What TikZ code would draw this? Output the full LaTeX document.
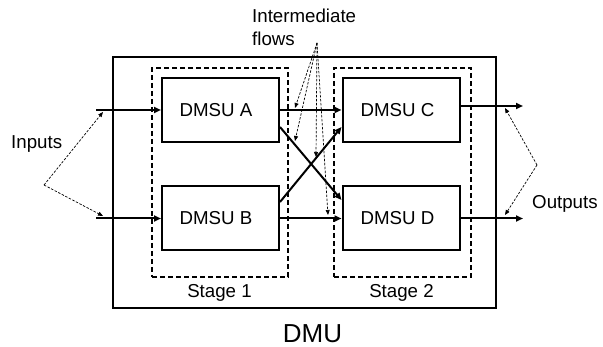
\documentclass[tikz,border=0pt]{standalone}
\usepackage{fontspec}
\setmainfont{Liberation Sans}
\usetikzlibrary{arrows.meta,calc}
\begin{document}
\begin{tikzpicture}[x=1pt,y=-1pt,
  unitbox/.style={draw,line width=2pt,minimum width=117pt,minimum height=64pt,inner sep=0pt,font=\fontsize{18.7}{20}\selectfont},
  stagebox/.style={draw,dash pattern=on 5pt off 3pt,line width=1.7pt,inner sep=0pt},
  flow/.style={line width=2pt,-{Triangle[length=7pt,width=6pt]}},
  pointer/.style={dash pattern=on 2.5pt off 1.5pt,line width=0.7pt,-{Triangle[length=5pt,width=4pt]}},
  lbl/.style={font=\fontsize{18.7}{23}\selectfont,inner sep=0pt}]
\useasboundingbox (0,0) rectangle (603,347);

% DMU frame and stage frames
\node[draw,line width=2.2pt,minimum width=383pt,minimum height=251pt,inner sep=0pt] (dmu) at (304.5,182.5) {};
\node[stagebox,minimum width=136pt,minimum height=209pt] (s1) at (220,172.5) {};
\node[stagebox,minimum width=137pt,minimum height=209pt] (s2) at (402.5,172.5) {};

% sub-units (names sit a little left of centre)
\node[unitbox] (A) at (220.5,110) {DMSU A\hspace*{9pt}};
\node[unitbox] (B) at (220.5,218.5) {DMSU B\hspace*{9pt}};
\node[unitbox] (C) at (401,110) {DMSU C\hspace*{7pt}};
\node[unitbox] (D) at (401,218.5) {DMSU D\hspace*{7pt}};

% labels
\node[lbl,anchor=center] (st1) at (219.5,293) {Stage 1};
\node[lbl,anchor=center] (st2) at (401.5,293) {Stage 2};
\node[inner sep=0pt,font=\fontsize{26}{28}\selectfont] (dmulbl) at (312.5,334) {DMU};
\node[lbl,anchor=west] (inlbl) at (11,144) {Inputs};
\node[lbl,anchor=west] (outlbl) at (532,204) {Outputs};
\node[lbl,anchor=north west,align=left] (imlbl) at (252,9) {Intermediate\\flows};

% inputs
\coordinate (inA) at (96,110);
\coordinate (inB) at (96,218.5);
\draw[flow] (inA) -- (A.west);
\draw[flow] (inB) -- (B.west);

% outputs
\coordinate (outC) at (523,106);
\coordinate (outD) at (523,218.5);
\draw[flow] (C.east |- outC) -- (outC);
\draw[flow] (D.east) -- (outD);

% intermediate flows
\draw[flow] (A.east) -- (C.west);
\draw[flow] (B.east) -- (D.west);
\draw[flow] ($(A.east)+(0,17)$) -- ($(D.west)+(0,-18.5)$);
\draw[flow] ($(B.east)+(0,-16.5)$) -- ($(C.west)+(0,17)$);

% pointers from the labels
\coordinate (inV) at (44,185);
\coordinate (inP1) at (103,112);
\coordinate (inP2) at (103,216);
\draw[pointer] (inV) -- (inP1);
\draw[pointer] (inV) -- (inP2);

\coordinate (outV) at (537,165);
\coordinate (outP1) at (505,108);
\coordinate (outP2) at (505,215);
\draw[pointer] (outV) -- (outP1);
\draw[pointer] (outV) -- (outP2);

\coordinate (imV) at (317,43);
\coordinate (imP1) at (295,108);
\coordinate (imP2) at (295,141);
\coordinate (imP3) at (316,157);
\coordinate (imP4) at (328,215);
\foreach \p in {imP1,imP2,imP3,imP4} \draw[pointer] (imV) -- (\p);
\end{tikzpicture}
\end{document}
